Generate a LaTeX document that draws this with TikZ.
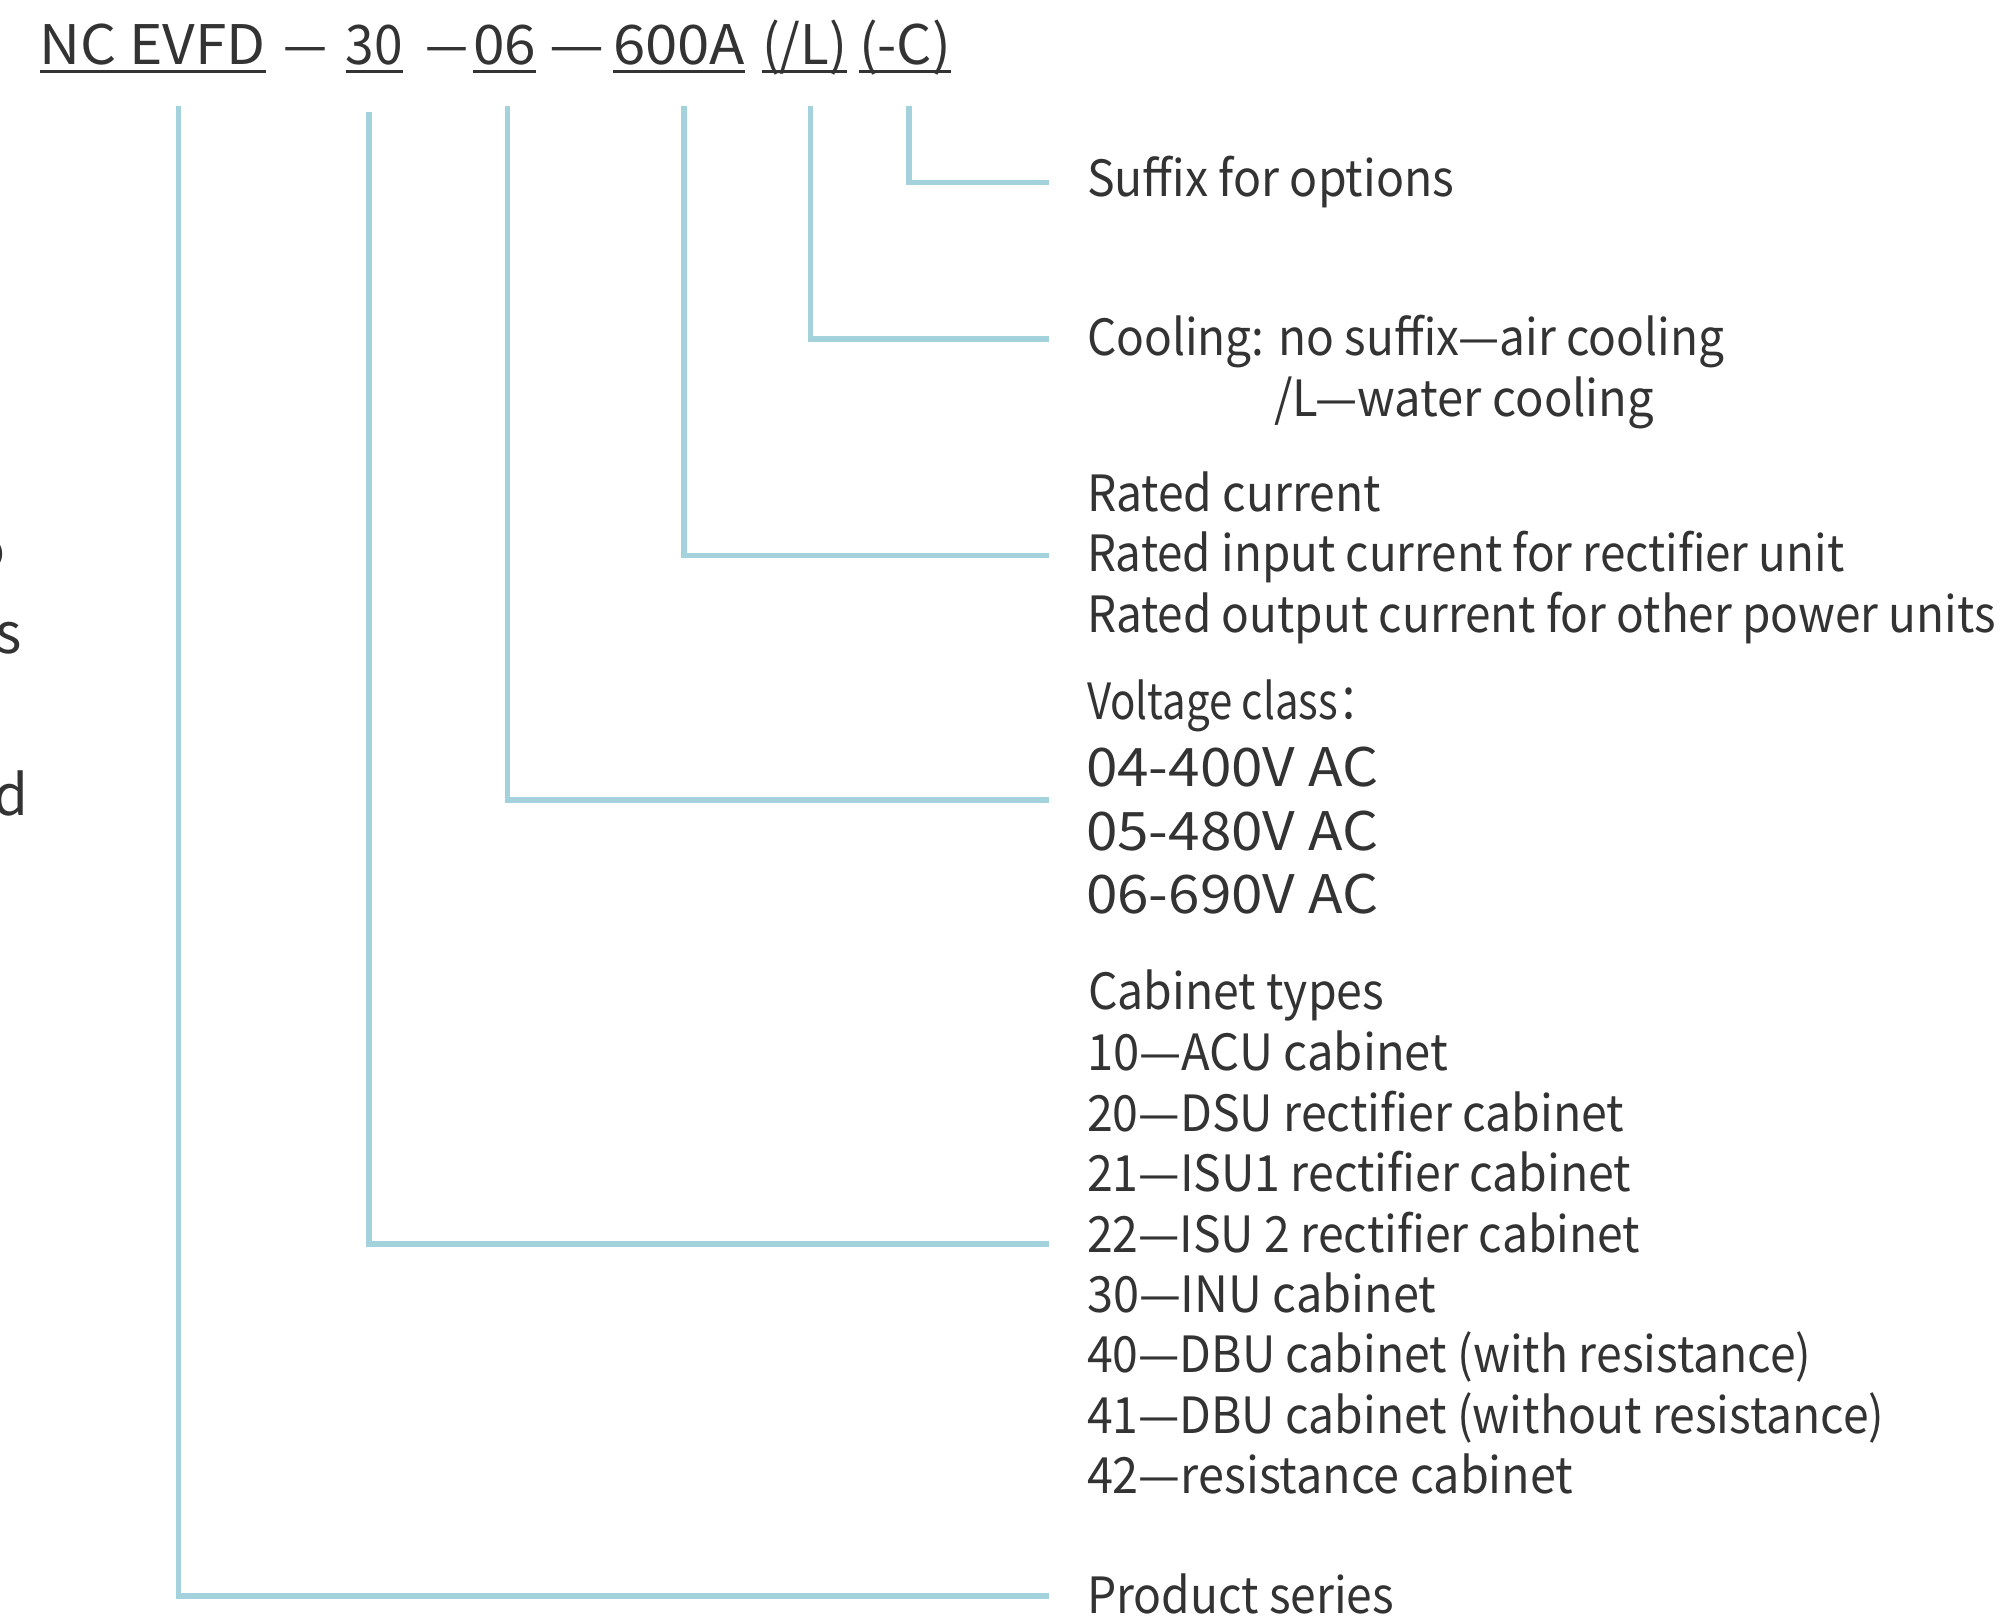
\documentclass[tikz,border=0pt]{standalone}
\usepackage{fontspec}
\usepackage{graphicx}
\usetikzlibrary{calc}
\newfontfamily\cjkf{Noto Sans CJK SC}
\definecolor{linec}{HTML}{A3D2DC}
\definecolor{txtc}{HTML}{333333}
\newsavebox\txtbox
\newlength\txtw
\newcommand\fitto[2]{\sbox\txtbox{#2}\setlength\txtw{\wd\txtbox}\pgfmathsetmacro\fitr{#1*0.284528/\txtw}\scalebox{\fitr}[1]{\usebox\txtbox}}
\tikzset{
  lbl/.style={anchor=base west, inner sep=0pt, outer sep=0pt, text=txtc, font=\cjkf\fontsize{14.2pt}{17pt}\selectfont},
  volt/.style={lbl, font=\cjkf\fontsize{15.1pt}{18pt}\selectfont},
  ttl/.style={lbl, font=\cjkf\fontsize{15.5pt}{18pt}\selectfont},
  frag/.style={anchor=base east, inner sep=0pt, text=txtc, font=\cjkf\fontsize{16pt}{19pt}\selectfont},
  conn/.style={draw=linec, line width=1.45pt},
  uline/.style={draw=txtc, line width=0.85pt}
}
\begin{document}
\begin{tikzpicture}[x=0.01cm, y=-0.01cm]
\useasboundingbox (0,0) rectangle (2000,1616);
\begin{scope}
\clip (0,0) rectangle (2000,1616);
% title tokens
\node[ttl] (t1) at (39.5,65) {\fitto{226}{NC EVFD}};
\node[ttl] (d1) at (283,65) {\fitto{44}{—}};
\node[ttl] (t2) at (345.6,65) {\fitto{57}{30}};
\node[ttl] (d2) at (425,65) {\fitto{43}{—}};
\node[ttl] (t3) at (473,65) {\fitto{63}{06}};
\node[ttl] (d3) at (549,65) {\fitto{55}{—}};
\node[ttl] (t4) at (613,65) {\fitto{132}{600A}};
\node[ttl] (t5) at (762,65) {\fitto{85}{(/L)}};
\node[ttl] (t6) at (859,65) {\fitto{92}{(-C)}};
\foreach \t in {t1,t2,t3,t4,t5,t6}{
  \draw[uline] ($(\t.base west)+(0,7)$) -- ($(\t.base east)+(0,7)$);
}
% labels
\node[lbl] (s1) at (1087,197) {\fitto{367}{Suffix for options}};
\node[lbl] (c1) at (1087,356) {\fitto{637}{Cooling: no suffix—air cooling}};
\node[lbl] (c2) at (1274,417) {\fitto{380}{/L—water cooling}};
\node[lbl] (r1) at (1087,512) {\fitto{294}{Rated current}};
\node[lbl] (r2) at (1087,572) {\fitto{757}{Rated input current for rectifier unit}};
\node[lbl] (r3) at (1087,633) {\fitto{908}{Rated output current for other power units}};
\node[lbl] (vc) at (1087,720) {\fitto{293}{Voltage class：}};
\node[volt] (v4) at (1086,787) {\fitto{292}{04-400V AC}};
\node[volt] (v5) at (1086,850) {\fitto{292}{05-480V AC}};
\node[volt] (v6) at (1086,913) {\fitto{292}{06-690V AC}};
\node[lbl] (ct) at (1088,1009) {\fitto{296}{Cabinet types}};
\node[lbl] (k10) at (1087,1070.5) {\fitto{361}{10—ACU cabinet}};
\node[lbl] (k20) at (1087,1131) {\fitto{537}{20—DSU rectifier cabinet}};
\node[lbl] (k21) at (1087,1191.5) {\fitto{544}{21—ISU1 rectifier cabinet}};
\node[lbl] (k22) at (1087,1252) {\fitto{553}{22—ISU 2 rectifier cabinet}};
\node[lbl] (k30) at (1087,1312) {\fitto{349}{30—INU cabinet}};
\node[lbl] (k40) at (1087,1372.5) {\fitto{724}{40—DBU cabinet (with resistance)}};
\node[lbl] (k41) at (1087,1433) {\fitto{797}{41—DBU cabinet (without resistance)}};
\node[lbl] (k42) at (1087,1493.5) {\fitto{486}{42—resistance cabinet}};
\node[lbl] (ps) at (1087,1613) {\fitto{307}{Product series}};
% cropped fragments at left edge
\node[frag] (f1) at (6,570) {o};
\node[frag] (f2) at (23,653) {s};
\node[frag] (f3) at (29,815) {d};
% connectors
\coordinate (a1) at (178.6,106);  \coordinate (b1) at (1049,1596);
\coordinate (a2) at (369,111.7);  \coordinate (b2) at (1049,1244);
\coordinate (a3) at (507.5,106);  \coordinate (b3) at (1049,800);
\coordinate (a4) at (684,106);    \coordinate (b4) at (1049,555.7);
\coordinate (a5) at (810.5,106);  \coordinate (b5) at (1049,339);
\coordinate (a6) at (909,106);    \coordinate (b6) at (1049,182.7);
\foreach \i in {1,...,6}{
  \draw[conn] (a\i) |- (b\i);
}
\end{scope}
\end{tikzpicture}
\end{document}
